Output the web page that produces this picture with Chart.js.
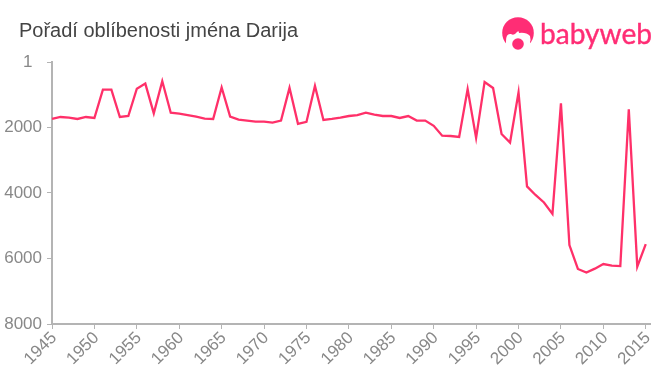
<!DOCTYPE html>
<html><head><meta charset="utf-8">
<script src="https://cdn.jsdelivr.net/npm/chart.js@4"></script>
<style>
html,body{margin:0;padding:0;background:#fff;width:660px;height:375px;overflow:hidden}
#wrap{position:relative;width:660px;height:375px}
canvas{position:absolute;left:0;top:0}
#title{position:absolute;left:19px;top:19px;font:20px "Liberation Sans",Arial,sans-serif;color:#444;line-height:23px;white-space:nowrap}
#logo{position:absolute;left:495px;top:8px}
</style></head><body>
<div id="wrap">
<canvas id="c" width="660" height="375"></canvas>
<div id="title">Pořadí oblíbenosti jména Darija</div>
<svg id="logo" width="165" height="50" viewBox="495 8 165 50">
<circle cx="518" cy="33" r="15.8" fill="#ff2d75"/>
<path d="M506 41 Q506 33 511 34 Q514 36 517 32 Q519 30 519 33 Q526 32 530 36 Q531 40 530 42 L530 50 L506 50 Z" fill="#fff"/>
<circle cx="518" cy="44" r="5.8" fill="#ff2d75"/>
<text x="540" y="43.5" font-family="Lato,'Open Sans',sans-serif" font-size="29" fill="#ff2d75" stroke="#ff2d75" stroke-width="0.4" textLength="112" lengthAdjust="spacingAndGlyphs">babyweb</text>
</svg>
</div>
<script>
const years = [1945,1946,1947,1948,1949,1950,1951,1952,1953,1954,1955,1956,1957,1958,1959,1960,1961,1962,1963,1964,1965,1966,1967,1968,1969,1970,1971,1972,1973,1974,1975,1976,1977,1978,1979,1980,1981,1982,1983,1984,1985,1986,1987,1988,1989,1990,1991,1992,1993,1994,1995,1996,1997,1998,1999,2000,2001,2002,2003,2004,2005,2006,2007,2008,2009,2010,2011,2012,2013,2014,2015];
const ranks = [1740,1680,1700,1740,1680,1710,845,845,1680,1650,815,660,1570,590,1550,1580,1620,1670,1730,1740,780,1670,1760,1790,1820,1820,1850,1790,790,1890,1830,730,1770,1740,1700,1650,1620,1550,1610,1650,1650,1710,1650,1790,1790,1950,2250,2260,2290,830,2320,610,795,2200,2460,930,3800,4060,4290,4640,1260,5590,6320,6430,6310,6170,6220,6230,1445,6250,5560];
const yTicks = [1,2000,4000,6000,8000];
const xTicks = [1945,1950,1955,1960,1965,1970,1975,1980,1985,1990,1995,2000,2005,2010,2015];
const grey = '#b4b4b4', textGrey = '#888888', pink = '#ff3069';
new Chart(document.getElementById('c'), {
  type:'line',
  data:{datasets:[{data:years.map((y,i)=>({x:y,y:ranks[i]})),borderColor:pink,borderWidth:2.3,pointRadius:0,tension:0,fill:false,clip:false}]},
  options:{
    responsive:false,animation:false,
    layout:{padding:{left:0,top:62,right:10,bottom:0}},
    plugins:{legend:{display:false},title:{display:false},tooltip:{enabled:false}},
    scales:{
      x:{type:'linear',min:1945,max:2015.5,
        afterBuildTicks(s){s.ticks=xTicks.map(v=>({value:v}));},
        afterFit(s){s.height=51;},
        grid:{drawOnChartArea:false,color:grey,tickLength:5,lineWidth:1},
        border:{color:grey,width:2},
        ticks:{autoSkip:false,maxRotation:45,minRotation:45,padding:-1,labelOffset:2,color:textGrey,font:{family:'"Liberation Sans"',size:17},callback:v=>String(v)}},
      y:{type:'linear',reverse:true,min:1,max:8000,
        afterBuildTicks(s){s.ticks=yTicks.map(v=>({value:v}));},
        afterFit(s){s.width=52;},
        grid:{drawOnChartArea:false,color:grey,tickLength:5,lineWidth:1},
        border:{color:grey,width:2},
        ticks:{padding:5,color:textGrey,font:{family:'"Liberation Sans"',size:17},callback:v=>v===1?'1\u00a0\u00a0':String(v)}}
    }
  }
});
</script>
</body></html>
